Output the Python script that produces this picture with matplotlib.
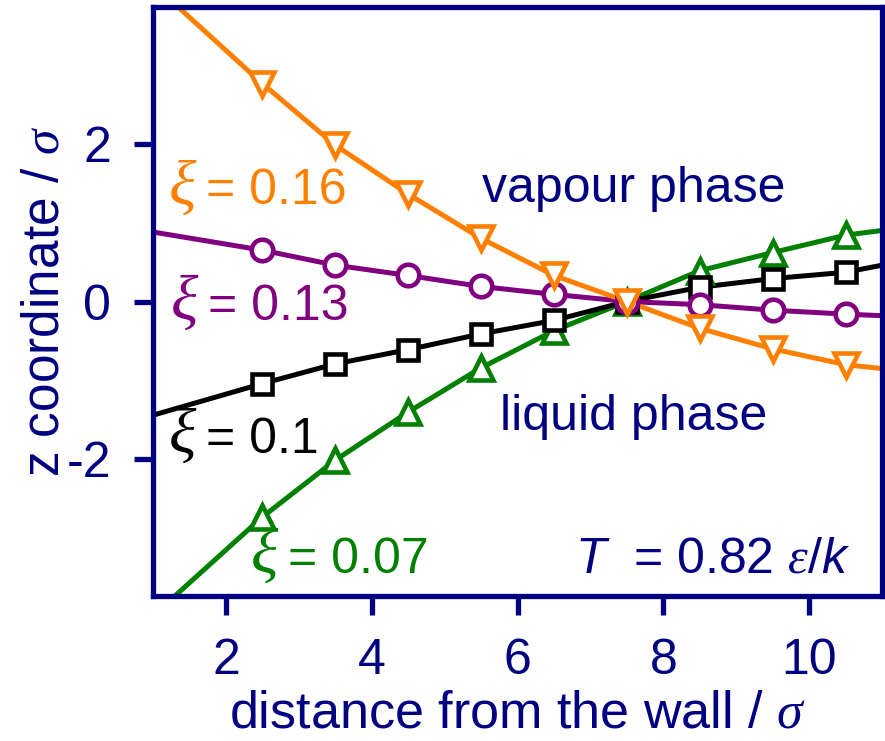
import matplotlib
matplotlib.use("Agg")
import matplotlib.pyplot as plt

plt.rcParams["font.family"] = ["Liberation Sans", "DejaVu Sans"]
plt.rcParams["mathtext.fontset"] = "custom"
plt.rcParams["mathtext.rm"] = "Liberation Sans"
plt.rcParams["mathtext.it"] = "Liberation Serif:italic"
plt.rcParams["mathtext.sf"] = "Liberation Sans:italic"
plt.rcParams["axes.unicode_minus"] = False

NAVY = "#000080"

# distance from the wall (sigma) at which the profiles were sampled
x_points = [2.5, 3.5, 4.5, 5.5, 6.5, 7.5, 8.5, 9.5, 10.5]

# interface position z for each wall-fluid interaction strength xi
z_007 = [-2.73, -2.01, -1.40, -0.84, -0.37, 0.0, 0.39, 0.62, 0.84]
z_010 = [-1.04, -0.79, -0.61, -0.41, -0.24, 0.0, 0.18, 0.29, 0.37]
z_013 = [0.65, 0.46, 0.33, 0.19, 0.09, 0.0, -0.04, -0.11, -0.16]
z_016 = [2.76, 1.98, 1.36, 0.80, 0.33, 0.0, -0.34, -0.60, -0.80]

# fitted contact-line profiles, evaluated at the box edges and sampling points
x_fit = [1.0] + x_points + [11.0]
fit_007 = [-3.98] + z_007 + [0.90]
fit_010 = [-1.44] + z_010 + [0.46]
fit_013 = [0.88] + z_013 + [-0.18]
fit_016 = [4.02] + z_016 + [-0.85]

series = [
    ("0.07", "#008000", "^", fit_007, z_007, 17),
    ("0.1", "#000000", "s", fit_010, z_010, 14.5),
    ("0.13", "#800080", "o", fit_013, z_013, 15.5),
    ("0.16", "#ff8000", "v", fit_016, z_016, 17),
]

fig = plt.figure(figsize=(8.85, 7.41), dpi=100)
ax = fig.add_axes([153 / 885, 1 - 596 / 741, 729 / 885, 589 / 741])

for label, color, marker, fit, pts, ms in series:
    ax.plot(x_fit, fit, color=color, lw=3.6, solid_capstyle="butt", zorder=2)
    ax.plot(x_points, pts, linestyle="none", marker=marker, ms=ms,
            mec=color, mfc="white", mew=3.3, zorder=3)

ax.set_xlim(1, 11)
ax.set_ylim(-3.73, 3.73)
ax.set_xticks([2, 4, 6, 8, 10])
ax.set_yticks([-2, 0, 2])

for side in ("left", "bottom", "right", "top"):
    ax.spines[side].set_color(NAVY)
    ax.spines[side].set_linewidth(3.8)
ax.tick_params(direction="out", length=14, width=3.8, color=NAVY,
               labelcolor=NAVY, labelsize=36, pad=16)
ax.tick_params(top=False, right=False)

ax.set_xlabel(r"distance from the wall / $\sigma$", fontsize=37.5, color=NAVY,
              labelpad=4)
ax.set_ylabel(r"z coordinate / $\sigma$", fontsize=37, color=NAVY, labelpad=-2)

# curve labels: the xi symbol is set a little larger than the number
labels = [
    ("0.16", "#ff8000", 1.21, 1.23),
    ("0.13", "#800080", 1.23, -0.23),
    ("0.1", "#000000", 1.21, -1.92),
    ("0.07", "#008000", 2.33, -3.44),
]
for val, color, lx, ly in labels:
    ax.text(lx, ly, r"$\xi$", color=color, fontsize=46,
            ha="left", va="baseline")
    ax.text(lx + 0.52, ly, "= " + val, color=color, fontsize=36,
            ha="left", va="baseline")

ax.text(5.51, 1.26, "vapour phase", color=NAVY, fontsize=36,
        ha="left", va="baseline")
ax.text(5.76, -1.63, "liquid phase", color=NAVY, fontsize=36,
        ha="left", va="baseline")
ax.text(10.56, -3.43, r"$\mathsf{T}$  = 0.82 $\varepsilon$/$\mathsf{k}$",
        color=NAVY, fontsize=36, ha="right", va="baseline")

fig.savefig("out.png", dpi=100)
